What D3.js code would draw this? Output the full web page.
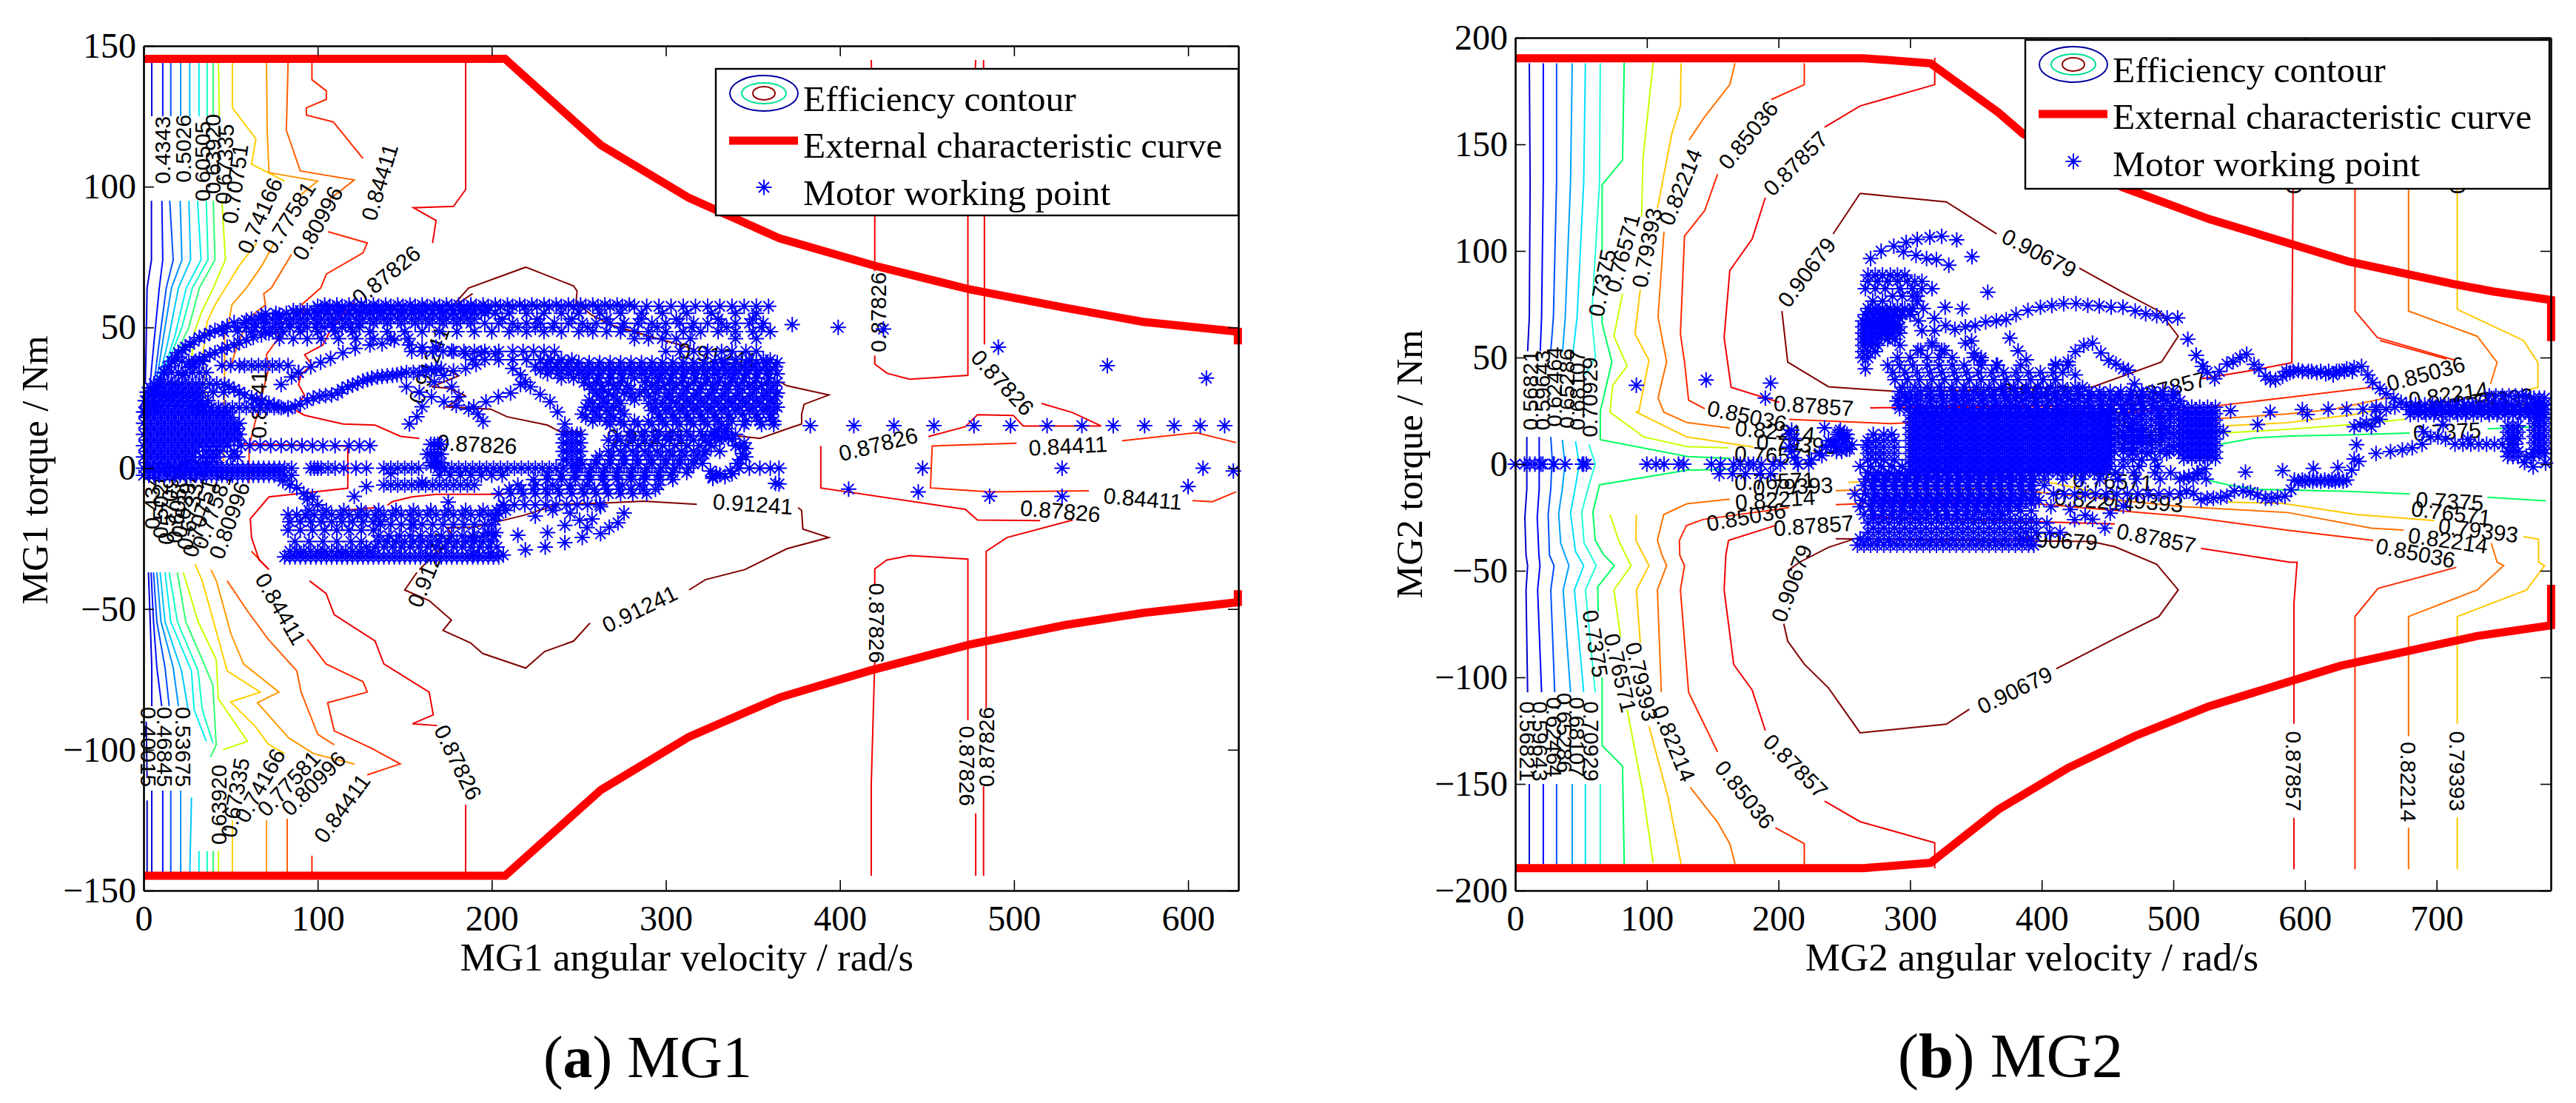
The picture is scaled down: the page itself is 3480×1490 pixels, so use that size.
<!DOCTYPE html>
<html><head><meta charset="utf-8">
<script src="https://cdn.jsdelivr.net/npm/d3@7/dist/d3.min.js"></script>
<style>html,body{margin:0;background:#fff}svg{display:block}</style></head>
<body><svg id="c" width="3480" height="1490"></svg>
<script>
const mg1XTicks=[0,100,200,300,400,500,600], mg1YTicks=[-150,-100,-50,0,50,100,150];
const mg2XTicks=[0,100,200,300,400,500,600,700], mg2YTicks=[-200,-150,-100,-50,0,50,100,150,200];
const legendLabels=["Efficiency contour","External characteristic curve","Motor working point"];

const mg1External=[[0,145.4],[207.6,145.4],[262.6,114.8],[313.3,96],[365.5,81.6],[420,71.9],[474.6,63.5],[529,57],[574,52],[628.6,48.5],[628.6,44]];
const mg1ExternalLow=[[0,-144.75],[207.6,-144.75],[262.6,-114.3],[313.3,-95.4],[365.5,-81.4],[418,-71.75],[474.6,-62.6],[529,-55.75],[574,-51.4],[628.6,-47.6],[628.6,-43.3]];
const mg2ExternalUp=[[0,190.4],[264.7,190.4],[315.5,188],[367,165],[385.8,155],[461,130],[527,115],[633.6,95],[712,84.6],[743,81],[787,77],[787,57.7]];
const mg2ExternalLow=[[0,-189.5],[264.7,-189.5],[315.5,-187],[367,-162],[420,-142.5],[470.5,-127.6],[527,-113.6],[627,-94.6],[731,-80.6],[787,-75.6],[787,-56.6]];

// contour polylines [level, [segment, segment...]] in rad/s, Nm
const mg1Contours=[
["0.40015",[[[1.5,-90],[2,-110]],[[2,-118],[2,-144.75]]]],
["0.4343",[[[4.7,144],[4.7,125]],[[4.5,95],[4.5,74],[2,64],[1.5,45],[1,30]],[[2.8,-37],[3.8,-54.5],[4.7,-70.75],[4.7,-84.5]],[[4.7,-114.5],[4.7,-144.75]]]],
["0.46845",[[[11,144],[11,125]],[[10.5,95],[11,74],[9,64],[6,45],[3,25]],[[4.3,-37],[5.7,-54.5],[7.6,-70.75],[10.4,-84.5]],[[11,-114.5],[11,-144.75]]]],
["0.5026",[[[15.6,144],[15.6,125]],[[15,95],[17,74],[13,64],[9,45],[5,25]],[[5.7,-37],[7.6,-54.5],[12.3,-70.75],[14.7,-84.5]],[[15.6,-114.5],[15.6,-144.75]]]],
["0.53675",[[[21.3,144],[21.3,125]],[[21,95],[22,74],[16,64],[11,45],[6,25]],[[7.6,-37],[10,-54.5],[17,-70.75],[20,-84.5]],[[21.3,-114.5],[21.3,-144.75]]]],
["0.5709",[[[26.5,144],[26.5,125]],[[26,95],[27,74],[20,64],[14,45],[7.5,28]],[[9.5,-37],[12.3,-54.5],[21.8,-72],[25.6,-85.75]],[[27.5,-117],[26.5,-144.75]]]],
["0.60505",[[[31.8,144],[31.8,125]],[[31,95],[33,74],[24.5,64],[18,47],[10,32]],[[12.3,-37],[15.6,-54.5],[27.5,-72],[29,-85.75],[36,-97]],[[31.8,-136],[31.8,-144.75]]]],
["0.6392",[[[36.5,144],[36.5,125]],[[36,95],[37,74],[28,64],[22,50],[13,36]],[[14.7,-37],[19.4,-54.5],[31.3,-72],[33.7,-85.75],[39.8,-97.6]],[[36.5,-136],[36.5,-144.75]]]],
["0.67335",[[[40,144],[40,125]],[[40,95],[41,74],[32,64],[26,50],[18,40]],[[19.4,-37],[24.2,-54.5],[33.7,-68],[39.8,-77],[41.7,-98.3],[38.4,-102.6]],[[40,-136],[40,-144.75]]]],
["0.70751",[[[43,144],[43.5,125]],[[45,95],[47,74],[40,64],[33,55],[29,48],[27,35]],[[22.8,-37],[31.3,-54.5],[41.7,-68],[43,-82],[59.7,-97],[45.5,-100]],[[43,-136],[43,-144.75]]]],
["0.74166",[[[51,144],[51,128],[64.5,117],[62,108],[81,102]],[[65,80],[55,72],[47,64],[41,58],[36.5,52],[34,40],[36,24.5],[33,8]],[[29.5,-34],[33.7,-40],[43,-60.75],[48,-72],[67,-79.5],[50,-83],[64.5,-92],[71.6,-98],[81,-101.4]],[[51,-125],[51,-144.75]]]],
["0.77581",[[[70.6,144],[71,120],[72,105],[100,102],[90,97]],[[75,80],[68,72],[59,64],[50.7,58],[49,52],[46.5,48],[46.5,26],[45.8,19],[46,4.7],[46,2.5]],[[38.7,-36],[42,-40.4],[50.2,-58.9],[57.4,-69.5],[77.7,-79.5],[65.4,-83.3],[83.4,-95.8],[97.7,-101.4],[121.3,-105.1]],[[70.6,-125],[70.6,-144.75]]]],
["0.80996",[[[83,144],[82,120],[90,105.6],[121,102.4],[107,95.6]],[[85,76],[73.4,64],[69,62],[70,58],[61.3,53.8],[54,44],[50,36]],[[48,-40],[59.7,-50.75],[71.6,-60.75],[88,-72],[90.5,-79.5],[100,-94.5],[109.5,-98.25]],[[82.5,-124.5],[82.5,-144.75]]]],
["0.84411",[[[96.7,144],[96.7,138],[105,134],[105,131],[93.5,128],[93.5,125.4],[109,123],[126,110]],[[106,84],[128.5,80],[126,76.5],[105,69],[101.7,64],[91,58.2],[92.5,55.6],[76,50.8],[77.6,46.4],[70.5,40.3],[72,35.9],[60.6,7.8],[60.6,-5.4]],[[62,-29.5],[71.6,-35.75]],[[94,-60.75],[104.8,-69.5],[126,-75.8],[128.5,-79.5],[105.7,-83.3],[109.5,-93.3],[131,-99.5],[147.4,-105],[128.5,-108.9]],[[96.7,-137.6],[96.7,-144.75]],[[627.6,9.1],[604.8,12.6],[562,9.75]],[[501.5,8.9],[453,7.9],[452,-7],[486.3,-8.4],[543,-8]],[[602.5,-11.5],[614,-11.9],[627.6,-8.4]]]],
["0.87826",[[[185,144],[185,99],[178,93],[155,92.5],[168,88],[166,80]],[[121,59],[108.8,50.8],[103,43.8],[92.5,40.3],[96.7,36.8],[90.4,33.2],[89,29.7],[92.5,25.8],[86,21],[92.5,18.8],[114.5,15.7],[133,15.3],[147.7,11.3],[158.4,10.6]],[[56.4,8.7],[117.3,7.8],[117.3,-7.1],[72,-10.2],[61.3,-18],[62,-24.6],[66.3,-32.5],[72,-36]],[[95.3,-40],[104.8,-44.5],[109.5,-52],[133,-61.4],[138,-69.5],[164,-79.5],[166.4,-87.6],[154.5,-90.75],[168.7,-91.4]],[[185,-119.5],[185,-144.75]],[[140,-13.2],[142.8,-11.9],[154,-10.2],[168,-9.3],[202,-9.3],[206.6,-9.3]],[[114.5,-15],[133,-14]],
 [[418,145],[420,90],[420,70]],[[420,40],[420,37],[427,33.75],[440,31.6],[473.5,33],[473.5,90],[478,145]],[[420,-41.4],[420,-35.75],[427,-32.6],[440,-31],[473.5,-32.25],[473.5,-89.5]],[[478,-122.6],[478,-144.75]],[[420,-68.9],[418,-112],[418,-144.75]],
 [[482.5,145],[483,90],[483,44]],[[515.8,23],[533.7,19.75],[550,15],[505.3,15],[499.6,18.75],[479,19],[472,14.75],[450.8,11.25]],[[389,7.9],[389,-7],[472,-14.6],[479,-18.4],[515,-18.6]],[[533.7,-18.4],[496,-24.6],[484,-29.5],[484,-85.2]],[[482.5,-113],[482.5,-144.75]]]],
["0.91241",[[[189,62],[176,56.6],[186.7,64],[219.5,71.4],[247,64.75],[249,62.9],[248.4,58.7],[257.6,54.3],[269,50.8],[293,46.4],[308.6,43.8],[317,42]],[[364.5,31],[369.5,29.3],[393.6,26],[379.4,22.7],[378,19.2],[378,15.7],[371.6,14.4],[354,10.6],[338,11.7]],[[174,35],[181,32.8],[165.4,28.9],[175.4,28.4],[184.6,25.8],[174,21.8],[199.4,21],[208.7,18.3],[232,15.3],[239,13],[252,13]],[[317.8,-12.8],[287,-11.7],[263,-12.4],[238.5,-12.8],[218,-16.8],[206.6,-18.5],[189.6,-21],[174,-21.1],[178,-24],[158.4,-36]],[[375.9,-14],[378,-15],[378.7,-21.6],[393.6,-24.6],[369.5,-28.6],[345.4,-36],[322.7,-39.6],[313.3,-43.25]],[[256.4,-55],[247,-61.4],[230.4,-65.1],[219.5,-71],[194.8,-65.8],[187.7,-62],[172,-57.6],[176.8,-53.9],[164,-47],[150,-43.25],[157,-37]]]]
];
const mg1ContourColors={"0.40015":"#0000b0","0.4343":"#0000d8","0.46845":"#0010ff","0.5026":"#0050ff","0.53675":"#0090ff","0.5709":"#00c8ff","0.60505":"#00f0f0","0.6392":"#10ffc0","0.67335":"#30ff70","0.70751":"#c8ff00","0.74166":"#ffd000","0.77581":"#ff9800","0.80996":"#ff6000","0.84411":"#ff2800","0.87826":"#f00000","0.91241":"#800000"};

const mg2Contours=[
["0.56821",[[[10.7,188],[11.3,132],[10.7,69],[9.4,53]],[[8.8,12.8],[8.8,0],[8.8,-11.5],[7.3,-25],[8.2,-42.7],[9.4,-47.6],[8.2,-59],[9.4,-107]],[[10.7,-150],[10.7,-187.5]]]],
["0.59643",[[[21.3,188],[21.3,132],[20,69],[19,53]],[[18.2,12.8],[18.2,0],[18.2,-11.5],[16.7,-25],[18,-42.7],[18.8,-47.6],[17,-59],[20,-107]],[[21.3,-150],[21.3,-187.5]]]],
["0.62464",[[[31.4,188],[31.4,132],[29,69],[27,53]],[[27,12.8],[28,3],[27,-11.5],[25,-23.5],[26,-42.7],[29.5,-47.6],[27,-59],[30,-107]],[[31.4,-150],[31.4,-187.5]]]],
["0.65286",[[[43.3,188],[42,132],[38,69],[36,53]],[[35.8,11.4],[37.7,0],[35.8,-11.5],[33,-23],[34.5,-37],[40.8,-47.6],[36.4,-59],[42,-107]],[[43.3,-150],[43.3,-187.5]]]],
["0.68107",[[[53.3,188],[52,132],[47,69],[44,53]],[[45.8,10.7],[48.6,0],[45.8,-10.2],[42,-23],[45.8,-41],[52,-47.6],[45,-59],[52,-107]],[[53.3,-150],[53.3,-187.5]]]],
["0.70929",[[[64.6,188],[64,132],[58,69],[61,50],[53,42]],[[56,9.4],[60.8,0],[56,-9.7],[50.5,-22.5],[52.3,-37],[61.5,-47.6],[53.3,-59],[60.8,-107]],[[64.6,-150],[64.6,-187.5]]]],
["0.7375",[[[82.8,188.4],[81.5,142.7],[66,131],[66,100]],[[66,70],[66,66],[73.4,47.9],[64.6,24.8],[64.6,11.5],[131,3.6],[164,2.7]],[[536,9.4],[562,12.3],[588.6,13.2],[631.7,13.7],[679.6,14.6]],[[738.7,16.6],[759,17.1],[780,17.7]],[[521,-6.8],[541.7,-9.7],[564,-11.8],[601.7,-12.3],[631.7,-12.8],[679.6,-14]],[[738.7,-15.5],[782.8,-17.2]],[[164,-2.4],[131,-2.8],[64,-9.7],[59,-22.5],[60.8,-35.8],[67.4,-42.7],[75.3,-47.6],[62.7,-57.5],[63,-69]],[[66,-100],[66,-132],[81.5,-141.6],[82.8,-187.5]]]],
["0.76571",[[[104.8,188.4],[97,143],[96,116]],[[81.5,80],[75,60],[85,46],[74,37],[72,24.4],[97.4,12.8],[131,8.2],[162,7.6]],[[538,14.6],[586.7,16.3],[635.5,18.6],[675.8,21]],[[744.3,25],[778,29]],[[72,-23.6],[78.6,-35.8],[84,-42.7],[88,-47.6],[75,-59],[80,-81]],[[85,-115],[97,-154],[104.8,-187]]]],
["0.79393",[[[126,188],[125.5,168],[119,155],[108,120]],[[95,82],[91,61],[101.6,48.7],[94,24.8],[92,24.4],[130,12.8],[181,8]],[[540,18],[586,19.4],[637,23.3],[652,25]],[[768.7,34.8],[777,36],[777,47.6],[766,58],[715.7,72.6],[715.7,188.4]],[[92,-23.6],[91.7,-35.8],[97.4,-42.7],[101.6,-47.6],[92,-59],[95,-84]],[[101.6,-123],[116,-156],[126,-187.5]],[[541.7,-17.8],[583,-18.4],[639,-23.6],[698.3,-26.5]],[[766,-34],[777.5,-35.2],[777.5,-46],[782,-47.6],[768.4,-59],[715.7,-71.5],[715.7,-121.8]],[[715.7,-165.6],[715.7,-190]],[[253,-8.6],[339,-5],[397,-7.4],[442,-13.2]]]],
["0.82214",[[[167,188],[163,178],[144,163],[132,152]],[[113,109],[108.5,69],[115,48],[108.5,31],[112.8,24.4],[130.5,19.5],[163,16.9]],[[525.7,21],[585.8,23.5],[620.5,25.6],[663.6,31.3]],[[678.7,188],[678.7,71.8],[730.8,60],[746,47.8],[741,37.7]],[[163,-16.4],[130.5,-18.6],[112.8,-23.6],[108,-35.8],[111.5,-42.7],[115,-47.6],[108,-59],[111,-107]],[[133,-151.6],[153.7,-168],[163,-178],[167,-187.5]],[[243.5,-12.4],[309,-11.5],[371,-11.5],[407,-13.8],[508,-20],[587,-22.7],[650.5,-30],[675,-30.9]],[[741.5,-37],[746,-46],[751,-47.6],[730.8,-59],[678.7,-71.5],[678.7,-127.6]],[[678.7,-170.5],[678.7,-190]]]],
["0.85036",[[[219.6,188],[219.6,178],[194.5,171]],[[153.7,136],[144,119],[128.6,107],[125.5,61],[128.6,48],[131.7,30],[144,26]],[[208,21],[285,19],[513.5,26],[588.6,31.4],[650.5,36]],[[657,58],[707.7,49.3]],[[638,188],[638,71.8],[655,59.4],[714.6,48.7]],[[208,-20.4],[142.4,-26],[130,-28.8],[124.7,-35.8],[125,-42.7],[128.6,-47.6],[125.5,-59],[131.7,-107],[153.7,-135]],[[197.6,-170.5],[219.6,-178],[219.6,-187.5]],[[243.5,-19],[292,-17.8],[396,-18.6],[508,-24.4],[586.7,-31],[652,-35.8]],[[715,-48.4],[655.5,-58.3],[638,-71.5],[638,-190]]]],
["0.87857",[[[318.7,190.6],[318.7,178],[262,168],[235,158]],[[190,125],[180,105.6],[163,90.8],[158.7,59.4],[164,36],[200.7,29]],[[269.7,26.4],[403,27],[470,28]],[[521,40],[560,44],[590,47.6],[591.6,188]],[[198.6,-28.6],[162,-35.8],[160,-42.7],[158.7,-59],[166,-94],[180,-106],[190,-125]],[[235,-158],[262,-167.7],[318.7,-177.6],[318.7,-189.6]],[[270,-24.8],[455.5,-28]],[[521,-39.5],[588.6,-46],[594,-46],[591.6,-65.7],[591.6,-121.8]],[[591.6,-165.9],[591.6,-190]]]],
["0.90679",[[[262,127],[327.5,123],[365.7,108]],[[428.5,92],[461,80.9],[489,71.8],[503.7,60],[491,47.9],[439,36.3],[294,33.9],[238,36.3],[207,47.9],[202.6,71.8]],[[241.5,108],[262,127]],[[243.5,-35],[437.7,-36.3],[455.5,-38.7],[487.4,-47],[503.7,-59],[489,-71.5],[458,-81],[411,-96]],[[345,-115],[327.5,-122],[262,-126],[238,-105],[219.6,-93.8],[207,-83],[204,-74.8]],[[207,-50],[216,-46],[238,-39],[263,-34]]]]
];
const mg2ContourColors={"0.56821":"#0000d0","0.59643":"#0000ff","0.62464":"#0050ff","0.65286":"#00a0ff","0.68107":"#00e0ff","0.70929":"#20ffd8","0.7375":"#00ff60","0.76571":"#c8ff00","0.79393":"#ffc800","0.82214":"#ff7000","0.85036":"#ff2800","0.87857":"#f00000","0.90679":"#800000"};

// contour labels: text, speed, torque, angle
const mg1ContourLabels=[
["0.4343",11,113,-90],["0.5026",22.8,113.5,-90],["0.60505",33.7,109,-90],["0.63920",39.8,111.6,-90],["0.67335",46.5,108,-88],["0.70751",52.6,101,-82],["0.74166",66.8,89.75,-66],["0.77581",83.4,89,-58],["0.80996",100,87,-61],["0.84411",135.6,101.6,-73],["0.87826",139.4,68.5,-39],["0.87826",422,55.4,-90],["0.87826",493.4,30.4,47],["0.87826",422,8.5,-14],["0.84411",531,7.9,-3],["0.87826",191.5,8.5,3],["0.91241",350,-12.75,4],["0.84411",574,-10.9,5],["0.87826",526.6,-15.25,5],["0.91241",164,36.6,-70],["0.84411",66,24.5,-90],["0.91241",289,11.3,0],["0.91241",330,40,8],
["0.4343",4.7,-9.7,-90],["0.5026",9.6,-13,-90],["0.57090",14.6,-13,-85],["0.60505",19.5,-12.4,-85],["0.63920",24,-10.6,-80],["0.67335",27.3,-15,-80],["0.70751",32.3,-17.6,-75],["0.77581",39.4,-15,-70],["0.80996",49.3,-18.5,-70],
["0.84411",78.7,-50,60],["0.91241",285,-50,-26],["0.91241",164,-35.75,-68],["0.87826",421,-55,90],["0.87826",180.6,-104.5,64],["0.84411",114,-120.75,-54],["0.80996",97.6,-112,-45],["0.77581",83.4,-112,-47],["0.74166",66.8,-112.7,-61],["0.67335",52.6,-117,-80],["0.63920",43,-119.5,-90],["0.40015",2.8,-99,90],["0.46845",12.3,-99,90],["0.53675",22.8,-99,90],["0.87826",473,-105.75,90],["0.87826",484,-99,-90]];
const mg2ContourLabels=[
["0.85036",177,154.3,-51],["0.87857",213,141,-45],["0.82214",125.5,130,-68],["0.79393",100,101.5,-79],["0.76571",81.5,99,-75],["0.7375",66,85,-79],["0.90679",221.4,90,-53],["0.90679",398,99,27.5],
["0.56821",11.3,34.6,-90],["0.59643",20.7,34.6,-90],["0.62464",29.5,36.3,-90],["0.65286",39,35.5,-90],["0.68107",47,34.6,-90],["0.70929",56.5,31.4,-90],
["0.56821",9.4,-130,90],["0.59643",18.8,-130,90],["0.62464",29.5,-128,90],["0.65286",37.6,-126,90],["0.68107",47,-128,90],["0.70929",57.7,-130,90],
["0.85036",176,22.6,12],["0.82214",197.4,15.3,5],["0.76571",197,4.2,2],["0.79393",213.7,9.4,3],["0.87857",226.7,27.4,4],["0.76571",197,-8,-2],["0.79393",211,-10.4,-2],["0.82214",197.4,-16.7,-4],["0.85036",175.5,-24.7,-10],["0.87857",226.7,-28.8,-4],
["0.90679",399,33.7,2],["0.87857",495,35.4,-15],["0.90679",412,-35.8,3],["0.87857",487,-34.7,11],["0.85036",691.8,42.4,-15],["0.82214",709,32.6,-8],["0.76571",726,28.5,-8],["0.79393",743,30.2,-6],["0.7375",708,15.3,-3],["0.7375",710,-17.4,3],["0.76571",711,-23,7],["0.79393",731.7,-31,7],["0.82214",708.7,-35.8,8],["0.85036",684,-41.7,11],
["0.76571",454,-8,3],["0.82214",440,-17,5],["0.79393",477,-17.4,5],["0.85036",440,21.5,2],["0.79393",463,12.8,-2],
["0.90679",210,-55.9,-70],["0.90679",379.5,-106,-26],["0.7375",60.8,-84.2,81],["0.76571",79.7,-97.9,77],["0.79393",96,-102,77],["0.82214",120.4,-131,68],["0.85036",174.4,-155,51],["0.87857",213,-141.6,45],["0.87857",591.5,-144,90],["0.82214",678.7,-149,90],["0.79393",715.7,-144,90],["0.87857",591.5,145.5,-90],["0.79393",715.7,145.5,-90]];

// working points: rows of [torque,[speeds]] 
const mg1Rows=[
[57.5,[100,107,114,121,128,135,142,149,156,163,170,177,184,191,198,205,212,219,226,233,240,247,254,261,268,275,282,289,296,303,310,317,324,331,338,345,352,359]],
[58,[104,111,118,125,132,139,146,153,160,167,174,181,188,195,202,209,216,223,230,237,244,251,258,265,272,279]],
[56,[86,90,94,98,102,106,110,114,118,122,126,130,134,138,142,146,150,154,158,162,166,170,174,178,182,186,190,194,198]],
[55,[70,76,82,88,94,100,106,112,118,124,130,136,142,148,154,160,166,172,178,184,190,196,202,210,220,230,240,250,262,274,286,298,312,326,340,352]],
[53,[62,66,70,74,78,82,86,90,94,98,102,106,110,114,118,122,126,130,134,138,142,146,150,154,158,162,166,170,174,178,182,186,190,206,226,246,266,286,306,330,350]],
[51.5,[58,64,70,76,84,92,100,108,116,124,132,140,148,156,164,172,180,188,196,204,212,220,228,236,244,252,260,268,276,284,292,300,308,316,324,332,340,348,356]],
[50,[54,59,64,69,74,79,84,89,94,99,104,109,114,119,124,215,225,235,255,275,295,315,335,355]],
[48.5,[46,54,62,70,80,90,100,110,120,130,140,150,160,170,180,190,200,210,220,230,240,250,258,266,274,282,290,300,310,320,330,340,350,360]],
[46,[78,86,94,102,112,122,132,142,152,282,290,298,306,314,340,352]],
[41.5,[154,160,166,172,178,184,190,196,204,212,218,224,230,236,300,308,316,324,332,338,346,352]],
[38.5,[189,196,204,212,220,228,234,240,246,360,356,348,340,332]],
[37.5,[232,238,244,250,256,262,268,274,280,286,292,298,304,310,316,322,328,334,340,346,352,358,364]],
[36.5,[45,50,55,58,62,66,70,74,78,83]],
[36,[225,231,237,243,249,255,261,267,273,279,285,291,297,303,309,315,321,327,333,339,345,351,357,363]],
[34.7,[228,234,240,246,252,258,264,270,276,282,288,294,300,306,312,318,324,330,336,342,348,354,360]],
[33.5,[232,238,244,250,256,262,268,274,280,286,292,298,304,310,316,322,328,334,340,346,352,358,364]],
[32,[240,247,254,261,268,275,282,289,296,303,310,317,324,331,338,345,352,359]],
[30.5,[253,260,267,274,288,295,302,309,316,323,330,337,344,351,358,364]],
[29.3,[256,263,270,278,292,299,306,313,320,327,334,341,348,355,362]],
[28,[258,264,272,280,288,296,304,312,320,328,336,344,352,360]],
[26.7,[260,267,276,285,294,302,310,318,326,334,342,350,358,364]],
[25.5,[262,270,280,290,300,308,316,324,332,340,348,356,363]],
[24.2,[256,264,272,282,294,303,312,320,328,336,344,352,360]],
[23,[258,266,274,290,298,306,314,322,330,338,346,354,362]],
[21.5,[31,35,39,43,47,51,55,59,63,67,71,75,79,83]],
[21.7,[254,262,270,294,302,310,318,326,334,342,350,358,364]],
[20.5,[258,266,274,292,300,308,316,324,332,340,348,356,362]],
[19.2,[252,260,268,276,296,304,312,320,328,336,344,352,360]],
[18,[254,262,270,296,304,312,320,328,336,352,360]],
[16.7,[258,266,274,282,290,298,306,314,322,330,338,346,354,362]],
[15.5,[268,276,284,292,300,308,316,324,332,345,355,362]],
[15.1,[383,408,431,454,477,498,519,539,557,575,592,607,621]],
[13,[280,288,296,304,312,320,328]],
[11.5,[272,279,286,293,300,307,314,321,328]],
[10,[267,274,281,288,295,302,309,316,323,331]],
[8,[56,61,67,73,79,85,91,97,103,110,118,124,130,270,277,284,291,298,305,312,319,326]],
[6,[267,274,281,288,295,302,309,316,323,331]],
[4.5,[262,269,276,283,290,297,304,311,318]],
[3,[260,268,276,284,292,300,308,316]],
[1.5,[252,260,268,276,284,292,300,308,316]],
[0,[0,3,6,9,12,15,18,21,24,27,30,33,36,39,42,45,48,51,54,57,60,63,66,69,72,75,78,81,85,96,98,100,102,106,110,115,122,128,138,142,146,150,154,158,169,173,177,181,185,189,193,197,201,205,209,213,217,221,225,229,233,237,241,249,257,265,273,281,289,297,305,313,348,354,360,365]],
[-1.5,[248,256,264,272,280,288,296,304,312]],
[-2.5,[0,3,6,9,12,15,18,21,24,27,30,33,36,39,42,45,48,51,54,57,60,63,66,69,72,75,78,81,85,170,176,182,188,194,200,206,232,240,248,256,264,272,280,288,296,303]],
[-4,[224,232,240,248,256,264,272,280,288,296,304]],
[-6,[138,142,146,150,154,158,162,166,170,174,178,182,186,190,215,225,235,245,255,265,275,285,296]],
[-7.5,[210,217,224,231,238,245,252,259,266,273,280,287,294]],
[-9,[204,211,218,225,232,239,246,253,260,267,274,281,289]],
[-13,[207,213,219,225,231,237,243,249,255,262]],
[-15,[95,105,115,125,135,145,155,165,175,185,195,203]],
[-16.5,[83,88,93,98,103,108,113,118,123,128,133,138,143,148,153,158,163,168,173,178,183,188,193,198,202]],
[-19,[84,90,96,102,108,114,120,126,132,136]],
[-20,[136,142,148,154,160,166,172,178,184,190,196,200]],
[-22,[83,90,97,104,111,118,125,132]],
[-26,[87,95,103,111,119,125,135,140,145,150,155,160,165,170,175,180,185,190,195,200]],
[-24,[135,141,147,153,159,165,171,177,183,189,195,201]],
[-28,[128,133,138,143,148,153,158,163,168,173,178,183,188,193,198,203]],
[-29.5,[84,88,92,96,100,104,108,112,116,120,124,130]],
[-31.5,[81,84,87,90,93,96,99,102,105,108,111,114,117,120,123,126,129,132,135,138,141,144,147,150,153,156,159,162,165,168,171,174,177,180,183,186,189,192,195,198,201,204]]
];
const mg1Cluster=[
[38,[18,22,26,30,34]],[34,[12,16,20,24,28,32,36]],
[30,[6,10,14,18,22,26,30,34,38,42]],[28.5,[4,8,12,16,20,24,28,32]],[27,[2,6,10,14,18,22,26,30,34,40,46]],[25.5,[3,7,11,15,19,23,27,31]],[24,[1,5,9,13,17,21,25,29,33,37]],[22,[2,6,10,14,18,22,26,30,34]],
[20,[0,4,8,12,16,20,24,28,32,36,40,44,48]],[18,[2,6,10,14,18,22,26,30,34,38,42,46,50]],[16,[0,4,8,12,16,20,24,28,32,36,40,44,48,52,55]],[14,[2,6,10,14,18,22,26,30,34,38,42,46,50,54]],[12,[0,4,8,12,16,20,24,28,32,36,40,44,48,52,55]],[10,[2,6,10,14,18,22,26,30,34,38,42,46,50,54]],
[8,[0,4,8,12,16,20,24,28,32,36,40,44,48]],[6,[2,6,10,14,18,22,26,30,36,40,44,52]],[4,[0,4,8,12,16,20,24,28,34,38,42,50,54]],[2,[2,6,10,14,18,22,26,30,34,38,42]],
[5,[167,169,171,165,163]],[8.5,[165,167,169,171]],[2,[165,167,169,171]],
[12,[246,243,249,241,251]],[9,[246,243,249,241,251]],[6,[246,243,249,241,251]],[3,[246,243,249,241,251]],[1,[246,249]]
];
const mg1Tracks=[
[1.1,20,5.4,27,9.6,31.5,14,36,18,39.4,22.4,42,26.6,44,32,46.4,38,48,45,49.5,52,51.7,59,52.5,67.7,54,78,54.5,3,23,7.5,29,11.5,34,16,38,20,41,24,43,29,45,35,47,41,49,48,50.5],
[6.8,21.8,12.5,26,16.7,29.7,22.4,33,26.6,35.9,32,38.5,38,40.3,45,42,52,43.8,59,45.5,67.7,47.3,76,48.6,29,37,35,39.5,41,41,48,43,55,44.5,63,46.5,72,48],
[89,34,96,36,101.7,37.6,107.4,39,114.5,41,121.5,42.5,130,43.8,137,44.2,144,45.5,152.7,43.8,160,43,168,43,177,41.6,185,40.7,194,41,202,40.7],
[79,29.7,85,32.4,89,34,46.5,29.7,52,28,58,26,65,24.5,72,23,77.6,21.8,49,29,55,27,62,25,68,24,75,22.5],
[83,21,90,22.7,97.5,25,104.5,25.8,111.6,26.7,117.3,28.9,123,30.2,128.6,31.5,134.3,32.4,140,32.8,145.6,33.2,151,34,158.4,34,165.4,35,171,35.4,178,34.6,185,35.4,191,36.8,87,22,94,24,101,25.5,108,26,114,28,120,29.5,126,31,131,32,137,32.6,143,33,148,33.6,155,34,162,34.5,168,35.2],
[151,28.9,158.4,27,165.4,25.4,172.5,23.6,179.6,22.3,186.7,21,192,19.2,195,16.6],
[152.7,15.7,157,18.3,160,21.8,167,30.6,172.5,33,177,28.9,181,25.4],
[189.6,21.8,196.7,23.6,203.8,25.4,210.8,26.7,216.5,29.7,219.3,30.6,222.2,28.9,227.8,26.2,233.5,23.6,237.8,20,242,15.7,212,35.4,216.5,33.2],
[80,-4.5,84,-6,88,-7,92,-9,97,-10,100,-13,94,-11],
[334,13,338,10.4,342.6,7.8,344,5.2,341,1.7,337,-1,331,-2.3,325.6,-1,321,1.7,330,14,336,11,340,8,346,4,342,0,334,-3,327,-3,345,9,340,12,332,11,325,9,322,5,346,7,343,3,338,-2,329,-2,326,12,335,14],
[189.6,-30.8,199.5,-30,206.6,-30.8,219.3,-29,230.7,-28,242,-26.4,252,-24.6,262.5,-23.3,267.5,-21,272.5,-19.4,276,-15.9],
[189.6,-24.6,202.3,-22.9,215,-23.8,232,-22.9,242,-20.3,250.5,-18.5,257.6,-18,262.5,-13.7,254.8,-21.1,198,-23,202,-18.5,206.6,-13.2,204,-16,208,-15,225,-17,235,-15,245,-16],
[372.6,51,399,50,425,49.4,491,43,553.6,36.4,610.5,32,447.5,0,527.6,0,608.6,0,626,-1,365,-5.6,405,-7.4,445,-8.4,486,-10,527.6,-10,600,-6.5,327,-3.6,363,-5.4,155,-20,128,-6.5,121,-10,142,-2,160,-5,175,-12,165,1]
];

// repeated speed lists for the solid part of the MG2 cloud
const mg2Mid=[303.5,310.5,317.5,324.5,331.5,338.5,345.5,352.5,359.5,366.5,373.5,380.5,387.5,394.5,401.5,408.5,415.5,422.5,429.5,436.5,443.5,449.5];
const mg2Right=[455,462,469,476,483,490,497,504];
const mg2Low=[272,280,288,296,304,312,320,328,336,344,352,360,368,376,384,392];
const mg2Upper=[292,300,308,316,324,332,340,348,356,364,372,380,388,396,404,412,420,428,436,444,452,460,468,476,484,492,500];
const mg2Rows=[
[24.5,mg2Mid],[21.5,mg2Mid],[18.5,mg2Mid],[15.5,mg2Mid],[12.5,mg2Mid],[9.5,mg2Mid],[6.5,mg2Mid],[3.5,mg2Mid],[0.5,mg2Mid],[-2.5,mg2Mid],
[24,mg2Right],[21,mg2Right],[18,mg2Right],[15,mg2Right],[12,mg2Right],[9,mg2Right],[6,mg2Right],
[-5.5,mg2Low],[-8.5,mg2Low],[-12,mg2Low],[-15.5,mg2Low],[-18.5,mg2Low],[-22,mg2Low],[-25.6,mg2Low],[-30,mg2Low],
[27.5,mg2Upper],[30.8,mg2Upper],[34,mg2Upper],
[53.4,[306,308,324,326]],
[50,[290.4,300,313,322,332,348.6,354]],
[46.4,[283,292,302,313,322,332,341,354,365.5,384,410.5,420]],
[43,[286.7,296,305.4,315,324,333.5,343,352,362,371,380.5,390,399,408.6,416]],
[39.6,[288.5,298,307,316.7,326,335.4,345,354,363.6,373,382,391.7,401,410.5]],
[36,[294,303.5,313,322,331.7,341,350.4,360,369,378.6,388,397,406.7,416,425.5,431]],
[32.5,[296,305.4,315,324,334,343,353,362,372,381,391,400,410,419,429,438,447,458,468,477,490,500]],
[29.6,[290,297,305,315,325,335,345,355,365,375,385,395,405,415,425,435,445,455,465,475,485,495,505]],
[26,[292,299,306,313,320,327,334,341,348,355,362,369,376,383,390,397,404,411,418,425,432,439,446,453,462,470,478,488,498]],
[23,[300,307,314,321,328,335,342,349,356,363,370,377,384,391,398,405,412,419,426,433,440,447,452,465,475,490,498]],
[20,[300,307,314,321,328,335,342,349,356,363,370,377,384,391,398,405,412,419,426,433,440,447,452,469,490]],
[17,[300,307,314,321,328,335,342,349,356,363,370,377,384,391,398,405,412,419,426,433,440,447,452,469,476,494]],
[14,[272,280,286,300,307,314,321,328,335,342,349,356,363,370,377,384,391,398,405,412,419,426,433,440,447,452,462,469,476,492,500]],
[11,[268,274,280,288,300,307,314,321,328,335,342,349,356,363,370,377,384,391,398,405,412,419,426,433,440,447,452,469,476,484]],
[8,[268,274,280,288,300,307,314,321,328,335,342,349,356,363,370,377,384,391,398,405,412,419,426,433,440,447,452,462,469,500]],
[5,[268,274,280,288,300,307,314,321,328,335,342,349,356,363,370,377,384,391,398,405,412,419,426,433,440,447,452,469,480,495]],
[2,[268,274,280,288,300,307,314,321,328,335,342,349,356,363,370,377,384,391,398,405,412,419,426,433,440,447,452,462,469,476,486]],
[-1,[262,270,278,286,294,300,307,314,321,328,335,342,349,356,363,370,377,384,391,398,405,412,419,426,433,440,447,452,462,474,488]],
[-4,[268,276,284,292,300,307,314,321,328,335,342,349,356,363,370,377,384,391,398,405,412,419,426,433,440,447,456,470,486,498,518]],
[-7,[266,274,282,290,298,306,314,322,330,338,346,354,362,370,378,386,394,402,416,430,444,458,472,490,505,515,525]],
[-10,[265,272,280,288,296,304,312,320,328,336,344,352,360,368,376,384,392,402]],
[-14,[258,266,274,282,290,298,306,314,322,330,338,346,354,362,370,378,386,394,409,417,425,433,441,449,457,465,473,481,489,497,505]],
[-17,[264,272,280,288,296,304,312,320,328,336,344,352,360,368,376,384,392,398]],
[-20,[262,270,278,286,294,302,310,318,326,334,342,350,358,366,374,382,407]],
[-23.6,[265,272,279,286,293,300,307,314,321,328,335,342,349,356,363,370]],
[-27.6,[268,276,284,292,300,308,316,324,332,340,348,356,364,372,380,388,396,404]],
[-32,[268,276,284,292,300,308,316,324,332,340,348,356,364,372,380,388,396,406,414]],
[-35,[262,268,276,284,292,300,308,316,324,332,340,348,356,364,372,380,386,392]],
[-38,[260,265,270,275,280,285,290,295,300,305,310,315,320,325,330,335,340,345,350,355,360,365,370,375,380,385,390,394]],
[25.8,[617.7,631.7,644,661.7]],
[27.9,[677,684,691,697,703,709,715,721,727,733,739,745,751,757,763,769,775,782]],
[26.7,[680,688,696,704,712,720,728,736,744,752,760,768,776]],
[25.6,[654,680,686,692,698,704,710,716,722,728,734,740,746,752,758,764,770,776,782]],
[24.5,[683,691,699,707,715,723,731,739,747,755,763,771,779]],
[23.3,[601.7,680,686,692,698,704,710,716,722,728,734,740,746,752,758,764,770,776,782]],
[32,[740,745,750,755,760,765,768]],
[9.4,[714,720,726,732,738,744,750,756,760]],
[-7.5,[592,598,603.5,609,615,620.5,626,631.7]],
[-8,[595,600,606,612,618,623,629]],
[43.5,[586,591,598,605,612,618,624,630,636]],
[0,[0,7,11,15,19.5,21,29,29.5,38,51,52,54,100,107,113,124,128,149,156,166,171,177,181,187,196,201.5,214.6,223]],
[-4.5,[155,165,175,186,194]],
[26.7,[508,514,520,526,532]],[25,[511,517,523,529]],[23.7,[508,514,520,526,532]],[22,[511,517,523,529]],[20.7,[508,514,520,526,532]],[19,[511,517,523,529]],[17.7,[508,514,520,526,532]],[16,[511,517,523,529]],[14.7,[508,514,520,526,532]],[13,[511,517,523,529]],[11.7,[508,514,520,526,532]],[10,[511,517,523,529]],[8.7,[508,514,520,526,532]],[7,[511,517,523,529]],[5.7,[508,514,520,526,532]],[4,[511,517,523,529]],[2.7,[508,514,520,526,532]],
[31,[774,778,782]],[28,[774,778,782]],[22,[774,778,782]],[19,[774,778,782]],[16,[774,778,782]],[13,[774,778,782]],[10,[774,778,782]],[7,[774,778,782]],[5,[774,778,782]],
[18,[754,758,762]],[15,[754,758,762]],[12,[754,758,762]],[6,[754,758,762]],[3.6,[754,758,762,768,772]],
[88.7,[268,273.5,279,285,290.4,296]],[85.8,[268,275.4,283,290.4,298,303.5,309]],[82.3,[266,273.5,281,292.3,301.7,309,316.7]],[78.8,[286.6,294,301.7,305.4]],[76.5,[271.6,279,305.4]],
[73,[268,273.5,279,285,290.4,296,301.7,310]],[71.5,[270,276,282,288,294,300]],[70.1,[266,271.6,277,283,288.5,294,300]],[68.5,[268,274,280,286,292]],[67.2,[264,270,275.4,281,286.6]],[65.7,[266,272,278,284,290]],[64.4,[264,270,275.4,281,286.6,292.3]],[63,[266,272,278,284,290]],[61.5,[264,270,275.4,281,286.6,292.3]],[60,[266,272,278,284]],[58.6,[264,270,275.4,283,288.5]],[57,[266,272]],[55.7,[264,270,275.4,292.3,316.7]],[52.8,[264,268,273.5]],[49.9,[264,268]],[44.7,[266]]
];
const mg2Tracks=[
[270,96.4,278,99.9,287.6,102.3,297,104,305.4,105.4,315,106.4,324,106.9,335.4,105.2,295,99.6,304.5,97.9,312.5,96.4,320,95.9,329.4,93.3,347,97.3,359,80.6],
[326.6,73.6,339.6,72.8,318.5,68.4,306.4,67.2,309,62.6,318.5,62.6,327,65,334,63.2,342,64.4,349.5,65,357.4,66.7,365.5,67.2,373,67.8,380.5,70.1,389.5,72.1,399,73.6,407.7,74.4,416.7,75.3,426,75.3,435,74.5,443.7,74.2,452.7,73.6,461.7,73.6,471,71.9,479,70.5,487.4,69.6,495.3,68.6,503.3,68.6,511,58.6,517.4,51,522.7,45.8],
[375.8,59.1,382,53.1,388.3,49,342,56.8,346.7,57.8,316.7,56.8,348.6,52.2,354,48.7,366.4,46.4,425.5,52.8,432,55.7,438.6,56.8,445,52.2,450.8,48.7,456.4,47,462,44.7,465.8,44.1,425.5,41.8,470.5,37.7,420,48,410.5,47],
[92,37,145,39.5,194,38,190,31,235,17,215,0,225,2,233,4,240,9,245,14,243,10,208,8,210,6,212,12,208,14,210,16,212,3,238,11,236,8,231,5,247,16,250,10,254,7,248,6,267,9,246,12,250,14,244,8,252,12,256,9],
[517.3,51,522,45.8,525.7,43,531.4,40,535,43.5,540.7,47,545.4,48,550.7,49.9,555.7,51.6,561.4,46.8,565,44.7,570,41.2,573.6,39.5,577.7,39.5,583,41.2,588.6,43,595,44,602.6,43.5,609,43,615.8,42.4,621.4,41.8,626,43.5,631.7,44.7,637.4,45.3,643,45.8,647.7,41.8,651.4,38.3,657,35.4,661.7,33,667.4,30.8,673,29],
[654,5,665,5.9,674,6.7,681.5,7.6,689,9.4,690,15.2,695.5,12.8,705,18.6,701,12.8,706.8,11.7,723.7,11.7,766.8,0.7,773.4,-1.3,782.8,0.5],
[543.5,25,573.6,24.4,598,25.6,654.2,26.7,668.3,26.7,564,18.6,538,15.4,637.4,17.5,642,18.6,646.7,19.2,650.5,17.5,653.3,21,657,21],
[639.2,9.1,637.4,2.4,641,1.3,635.5,-2.8,625,-1.6,606.4,-2,583,-3,554.8,-3.7,524,-2.2,519,-4.5,511.7,-5.7,508,-6.3],
[589.5,-12,584.8,-15,579.2,-15.5,574.5,-16,570,-16,564,-14.4,558.6,-13.2,553,-12.6,546.4,-12.6,540.7,-15,536,-15.5,530.4,-16,525.7,-16,521,-16.7,515.4,-13.8,510,-12.6],
[421.7,-21.3,433,-24,438.6,-25.9,448,-30,425,-26,452,-23,462,-19.6,243,9,248,12,252,14,246,15,252,7,244,6]
];

const svg=d3.select("#c");
const serif="'Liberation Serif','Times New Roman',serif", sans="'Liberation Sans',Arial,sans-serif";
const starPath="M-10.5 0H10.5M0-10.5V10.5M-7-7L7 7M-7 7L7-7";

function panel(o){
  const x=d3.scaleLinear().domain([0,o.xMax]).range([o.left,o.right]);
  const y=d3.scaleLinear().domain(o.yDomain).range([o.bottom,o.top]);
  const g=svg.append("g");
  const line=d3.line().x(d=>x(d[0])).y(d=>y(d[1]));
  const segs=o.contours.flatMap(([lv,ss])=>ss.map(s=>({lv,s})));
  g.append("g").selectAll("path").data(segs).join("path").attr("d",d=>line(d.s)).attr("fill","none")
    .attr("stroke",d=>o.colors[d.lv]).attr("stroke-width",2);
  g.append("g").selectAll("text").data(o.labels).join("text").text(d=>d[0])
    .attr("transform",d=>`translate(${x(d[1])},${y(d[2])}) rotate(${d[3]})`)
    .attr("text-anchor","middle").attr("dominant-baseline","central")
    .attr("font-family",sans).attr("font-size",30).attr("fill","#000");
  const pts=[];
  o.rows.forEach(([t,ws])=>ws.forEach(w=>pts.push([w,t])));
  o.tracks.forEach(tr=>{for(let i=0;i<tr.length;i+=2)pts.push([tr[i],tr[i+1]]);});
  g.append("g").selectAll("path").data(pts).join("path")
    .attr("transform",p=>`translate(${x(p[0])},${y(p[1])})`).attr("d",starPath)
    .attr("fill","none").attr("stroke","#0000ff").attr("stroke-width",2);
  o.external.forEach(c=>g.append("path").attr("d",line(c)).attr("fill","none").attr("stroke","#ff0000").attr("stroke-width",11));
  const ax=(gen,tr)=>{const a=g.append("g").attr("transform",tr).call(gen);
    a.select(".domain").attr("stroke","#000").attr("stroke-width",2.6);
    a.selectAll(".tick line").attr("stroke","#000").attr("stroke-width",1.6);
    a.selectAll("text").attr("font-family",serif).attr("font-size",48).attr("fill","#000");return a;};
  ax(d3.axisBottom(x).tickValues(o.xTicks).tickSize(-14).tickSizeOuter(0).tickPadding(20),`translate(0,${o.bottom})`);
  ax(d3.axisTop(x).tickValues(o.xTicks).tickSize(-14).tickSizeOuter(0).tickFormat(""),`translate(0,${o.top})`);
  ax(d3.axisLeft(y).tickValues(o.yTicks).tickSize(-14).tickSizeOuter(0).tickPadding(10),`translate(${o.left},0)`);
  ax(d3.axisRight(y).tickValues(o.yTicks).tickSize(-14).tickSizeOuter(0).tickFormat(""),`translate(${o.right},0)`);
  g.append("text").text(o.xTitle).attr("x",o.xTitleX).attr("y",1311).attr("text-anchor","middle").attr("font-family",serif).attr("font-size",53);
  g.append("text").text(o.yTitle).attr("transform",`translate(${o.yTitleX},${o.yTitleY}) rotate(-90)`).attr("text-anchor","middle").attr("font-family",serif).attr("font-size",50.5);
  const cap=g.append("text").attr("x",o.capX).attr("y",1455).attr("text-anchor","middle").attr("font-family",serif).attr("font-size",o.capSize);
  cap.append("tspan").text("(");cap.append("tspan").text(o.capLetter).attr("font-weight","bold");cap.append("tspan").text(") "+o.capName);
  const L=o.legend, lg=g.append("g");
  lg.append("rect").attr("x",L.x).attr("y",L.y).attr("width",L.w).attr("height",L.h).attr("fill","#fff").attr("stroke","#000").attr("stroke-width",2.4);
  const ic=L.x+65;
  [[46,24,"#0000a0"],[30,14,"#00e090"],[15,9,"#900000"]].forEach(([a,b,c])=>lg.append("ellipse").attr("cx",ic).attr("cy",L.y+33).attr("rx",a).attr("ry",b).attr("fill","none").attr("stroke",c).attr("stroke-width",2));
  lg.append("line").attr("x1",L.x+18).attr("x2",L.x+111).attr("y1",L.y+L.rows[1]).attr("y2",L.y+L.rows[1]).attr("stroke","#f00").attr("stroke-width",11);
  lg.append("path").attr("transform",`translate(${ic},${L.y+L.rows[2]})`).attr("d",starPath).attr("fill","none").attr("stroke","#00f").attr("stroke-width",2);
  legendLabels.forEach((t,i)=>lg.append("text").text(t).attr("x",L.x+118).attr("y",L.y+L.base[i]).attr("font-family",serif).attr("font-size",49.5));
}

panel({left:194,right:1673,top:62,bottom:1203,xMax:628.9,yDomain:[-150,150],xTicks:mg1XTicks,yTicks:mg1YTicks,
  contours:mg1Contours,colors:mg1ContourColors,labels:mg1ContourLabels,rows:mg1Rows.concat(mg1Cluster),tracks:mg1Tracks,
  external:[mg1External,mg1ExternalLow],xTitle:"MG1 angular velocity / rad/s",xTitleX:928,yTitle:"MG1 torque / Nm",yTitleX:64,yTitleY:635,
  capX:875,capSize:80,capLetter:"a",capName:"MG1",legend:{x:967,y:93,w:706,h:198,rows:[33,97,160],base:[57,120,184]}});
panel({left:2047,right:3446,top:51,bottom:1203,xMax:786.8,yDomain:[-200,200],xTicks:mg2XTicks,yTicks:mg2YTicks,
  contours:mg2Contours,colors:mg2ContourColors,labels:mg2ContourLabels,rows:mg2Rows,tracks:mg2Tracks,
  external:[mg2ExternalUp,mg2ExternalLow],xTitle:"MG2 angular velocity / rad/s",xTitleX:2745,yTitle:"MG2 torque / Nm",yTitleX:1921,yTitleY:627,
  capX:2716,capSize:85,capLetter:"b",capName:"MG2",legend:{x:2736,y:54,w:708,h:201,rows:[35,100,164],base:[57,120,184]}});
</script></body></html>
